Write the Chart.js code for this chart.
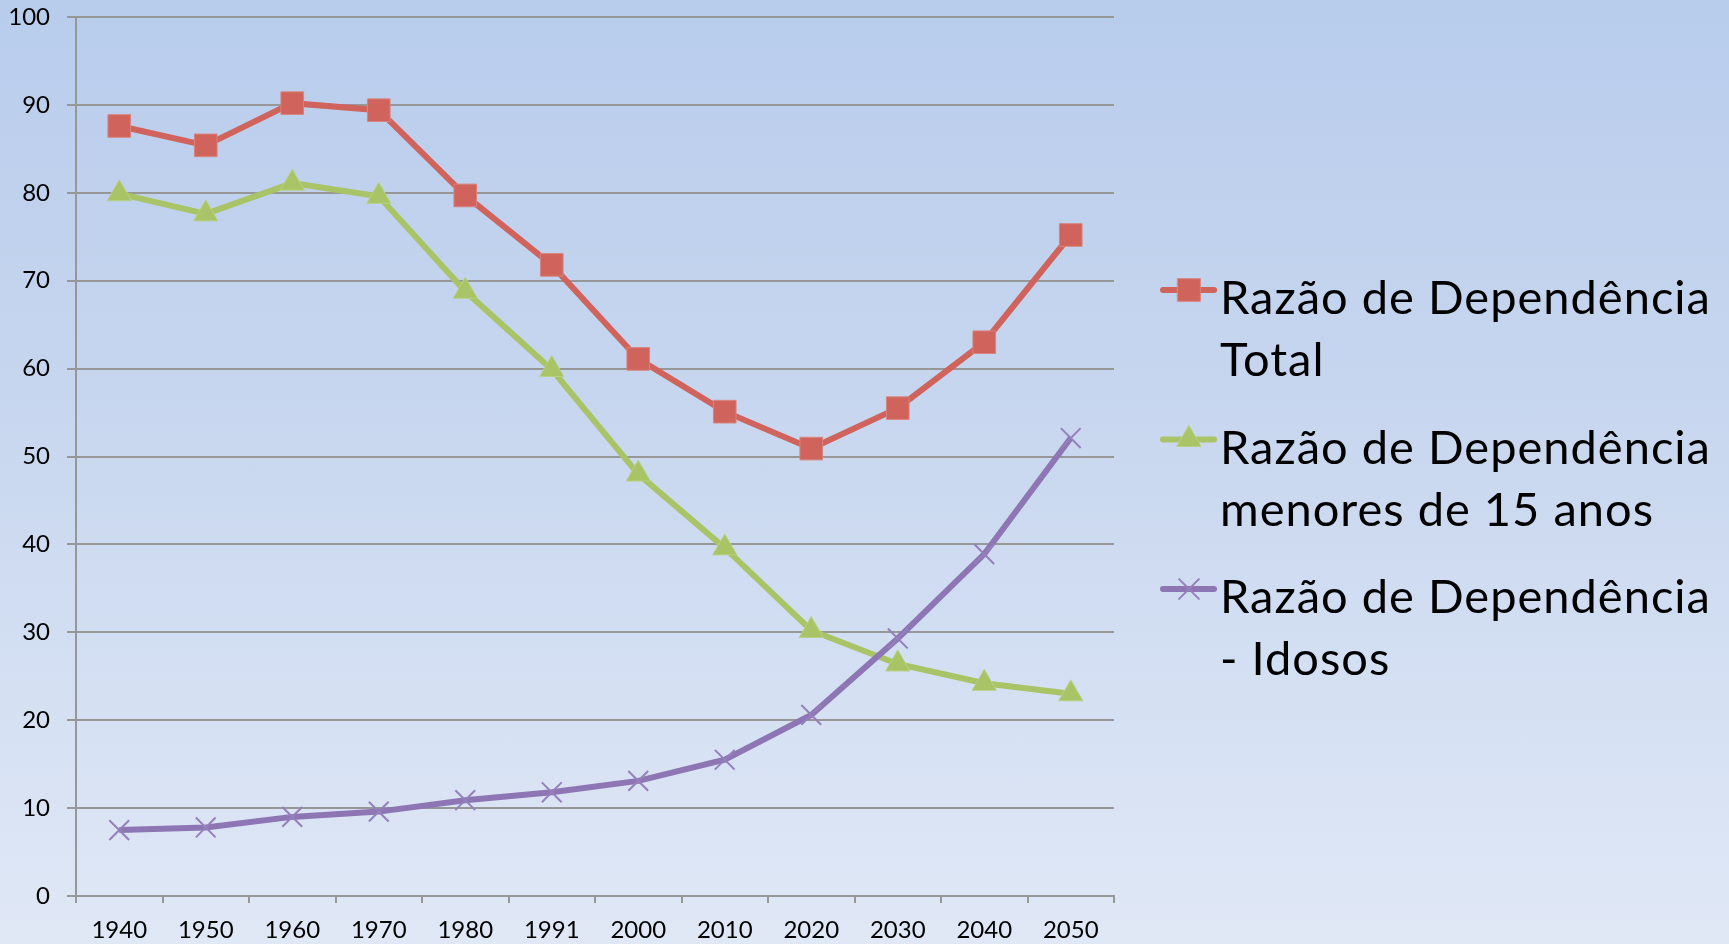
<!DOCTYPE html>
<html lang="pt">
<head>
    <meta charset="UTF-8">
    <meta name="viewport" content="width=device-width, initial-scale=1.0">
    <title>Razão de Dependência</title>
    <script src="https://cdn.jsdelivr.net/npm/chart.js@4.4.1/dist/chart.umd.min.js"></script>
    <style>
        html, body {
            margin: 0;
            padding: 0;
        }
        #wrap {
            width: 1729px;
            height: 944px;
            background: linear-gradient(to bottom, #b8ccec 0%, #c8d7ef 45%, #e0e8f6 100%);
        }
    </style>
</head>
<body>
    <div id="wrap">
        <canvas id="ratioChart"></canvas>
    </div>

    <script>
        // data
        const years = ['1940', '1950', '1960', '1970', '1980', '1991', '2000', '2010', '2020', '2030', '2040', '2050'];
        const totalRatio = [87.6, 85.4, 90.2, 89.4, 79.7, 71.8, 61.1, 55.1, 50.9, 55.5, 63.0, 75.2];
        const youngRatio = [79.9, 77.6, 81.1, 79.6, 68.8, 59.9, 48.0, 39.6, 30.2, 26.4, 24.2, 23.0];
        const elderlyRatio = [7.5, 7.8, 9.0, 9.6, 10.9, 11.8, 13.1, 15.5, 20.6, 29.3, 38.9, 52.1];
        const seriesNames = [
            ['Razão de Dependência', 'Total'],
            ['Razão de Dependência', 'menores de 15 anos'],
            ['Razão de Dependência', '- Idosos']
        ];
        const yMin = 0;
        const yMax = 100;
        const yStep = 10;

        const RED = '#d0635b';
        const GREEN = '#a9c466';
        const PURPLE = '#8d76b3';
        const GRID = '#979797';

        Chart.defaults.font.family = 'Lato, "Open Sans", sans-serif';
        Chart.defaults.color = '#000';

        // legend at the right, each label on two lines, line + marker sample
        const sideLegend = {
            id: 'sideLegend',
            afterDraw(chart) {
                const ctx = chart.ctx;
                ctx.save();
                chart.data.datasets.forEach((ds, i) => {
                    const baseline = 314 + i * 149.5;
                    const midY = baseline - 24;

                    ctx.strokeStyle = ds.borderColor;
                    ctx.lineWidth = 6;
                    ctx.lineCap = 'round';
                    ctx.beginPath();
                    ctx.moveTo(1163, midY);
                    ctx.lineTo(1214, midY);
                    ctx.stroke();

                    ctx.fillStyle = ds.pointBackgroundColor;
                    ctx.strokeStyle = ds.pointBorderColor;
                    ctx.lineWidth = ds.pointBorderWidth;
                    Chart.helpers.drawPoint(ctx, {
                        pointStyle: ds.pointStyle,
                        radius: ds.pointRadius,
                        borderWidth: ds.pointBorderWidth,
                        rotation: 0
                    }, 1189, midY);

                    ctx.fillStyle = '#000';
                    ctx.font = '47px Lato, "Open Sans", sans-serif';
                    ctx.letterSpacing = '1px';
                    ctx.textAlign = 'left';
                    ctx.textBaseline = 'alphabetic';
                    ds.label.forEach((line, k) => {
                        ctx.fillText(line, 1220, baseline + k * 62);
                    });
                });
                ctx.restore();
            }
        };

        const ctx = document.getElementById('ratioChart').getContext('2d');
        const ratioChart = new Chart(ctx, {
            type: 'line',
            data: {
                labels: years,
                datasets: [
                    {
                        label: seriesNames[0],
                        data: totalRatio,
                        borderColor: RED,
                        borderWidth: 6,
                        pointStyle: 'rect',
                        pointRadius: 16,
                        pointBackgroundColor: RED,
                        pointBorderColor: '#d8857e',
                        pointBorderWidth: 1,
                        order: 2
                    },
                    {
                        label: seriesNames[1],
                        data: youngRatio,
                        borderColor: GREEN,
                        borderWidth: 6,
                        pointStyle: 'triangle',
                        pointRadius: 14,
                        pointBackgroundColor: GREEN,
                        pointBorderColor: '#b9d084',
                        pointBorderWidth: 1,
                        order: 1
                    },
                    {
                        label: seriesNames[2],
                        data: elderlyRatio,
                        borderColor: PURPLE,
                        borderWidth: 6,
                        pointStyle: 'crossRot',
                        pointRadius: 14,
                        pointBackgroundColor: PURPLE,
                        pointBorderColor: '#9580bb',
                        pointBorderWidth: 2,
                        order: 0
                    }
                ]
            },
            options: {
                responsive: true,
                maintainAspectRatio: false,
                animation: false,
                layout: {
                    padding: { top: 16, right: 615, bottom: 0, left: 0 }
                },
                plugins: {
                    legend: { display: false },
                    tooltip: { enabled: false }
                },
                scales: {
                    x: {
                        offset: true,
                        grid: {
                            offset: true,
                            drawOnChartArea: false,
                            drawTicks: true,
                            tickLength: 7,
                            color: GRID,
                            lineWidth: 2
                        },
                        border: { color: GRID, width: 2 },
                        ticks: {
                            font: { size: 24 },
                            padding: 13,
                            maxRotation: 0,
                            autoSkip: false
                        },
                        afterFit(scale) {
                            scale.height = 48;
                        }
                    },
                    y: {
                        min: yMin,
                        max: yMax,
                        grid: {
                            color: GRID,
                            lineWidth: 2,
                            tickLength: 9
                        },
                        border: { color: GRID, width: 2 },
                        ticks: {
                            stepSize: yStep,
                            font: { size: 24 },
                            padding: 17
                        },
                        afterFit(scale) {
                            scale.width = 76;
                            // tick padding would otherwise push the plot down
                            scale.paddingTop = 0;
                            scale.paddingBottom = 0;
                        }
                    }
                }
            },
            plugins: [sideLegend]
        });
    </script>
</body>
</html>
